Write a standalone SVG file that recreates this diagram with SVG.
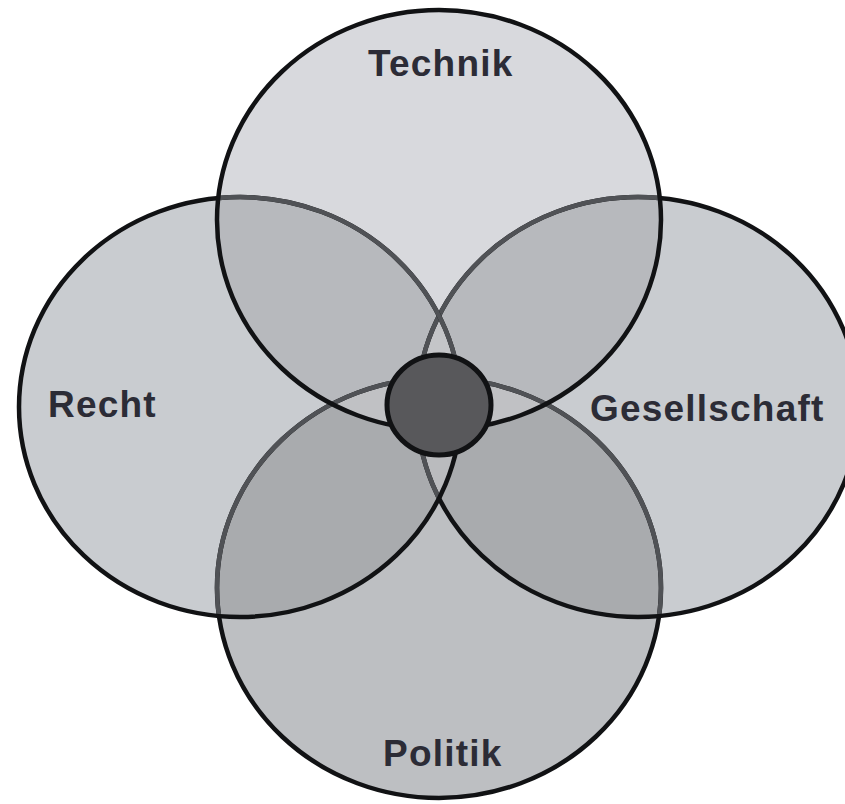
<svg xmlns="http://www.w3.org/2000/svg" width="845" height="804" viewBox="0 0 845 804">
  <defs>
    <style>
      .edge { fill: none; stroke: #111214; stroke-width: 4.5; }
      .edge-under { fill: none; stroke: #505256; stroke-width: 4.5; }
      .label { font-family: "Liberation Sans", Arial, sans-serif; font-weight: bold; font-size: 37px; fill: #2c2c36; letter-spacing: 1.2px; }
    </style>
    <!-- the four domains share one size; only their centres differ -->
    <ellipse id="shapeT" cx="439" cy="220" rx="222" ry="210"/>
    <ellipse id="shapeR" cx="240" cy="407" rx="221" ry="210"/>
    <ellipse id="shapeG" cx="638" cy="407" rx="221" ry="210"/>
    <ellipse id="shapeP" cx="439" cy="588" rx="222" ry="210"/>
    <clipPath id="clipT"><use href="#shapeT"/></clipPath>
    <clipPath id="clipR"><use href="#shapeR"/></clipPath>
    <clipPath id="clipG"><use href="#shapeG"/></clipPath>
    <clipPath id="clipP"><use href="#shapeP"/></clipPath>
    <clipPath id="clipRT"><use href="#shapeR"/><use href="#shapeT"/></clipPath>
    <clipPath id="clipGRT"><use href="#shapeG"/><use href="#shapeR"/><use href="#shapeT"/></clipPath>
  </defs>

  <rect width="845" height="804" fill="#ffffff"/>

  <!-- area fills: single domains -->
  <g id="fills">
    <use href="#shapeP" fill="#bdbfc2"/>
    <use href="#shapeG" fill="#c9ccd0"/>
    <use href="#shapeR" fill="#c9ccd0"/>
    <use href="#shapeT" fill="#d8d9dd"/>
    <!-- pairwise overlaps -->
    <g clip-path="url(#clipR)"><use href="#shapeP" fill="#a9abae"/></g>
    <g clip-path="url(#clipG)"><use href="#shapeP" fill="#a9abae"/></g>
    <g clip-path="url(#clipT)"><use href="#shapeR" fill="#b7b9bd"/></g>
    <g clip-path="url(#clipT)"><use href="#shapeG" fill="#b7b9bd"/></g>
    <!-- triple overlaps around the core -->
    <g clip-path="url(#clipR)"><g clip-path="url(#clipG)"><use href="#shapeP" fill="#babbbe"/></g></g>
    <g clip-path="url(#clipT)"><g clip-path="url(#clipP)"><use href="#shapeR" fill="#c0c1c4"/></g></g>
    <g clip-path="url(#clipT)"><g clip-path="url(#clipP)"><use href="#shapeG" fill="#c0c1c4"/></g></g>
    <g clip-path="url(#clipT)"><g clip-path="url(#clipR)"><use href="#shapeG" fill="#c4c5c8"/></g></g>
  </g>

  <!-- Politik -->
  <g id="politik">
    <use href="#shapeP" class="edge"/>
    <g clip-path="url(#clipGRT)"><use href="#shapeP" class="edge-under"/></g>
    <text class="label" x="383" y="766">Politik</text>
  </g>

  <!-- Gesellschaft -->
  <g id="gesellschaft">
    <use href="#shapeG" class="edge"/>
    <g clip-path="url(#clipRT)"><use href="#shapeG" class="edge-under"/></g>
    <text class="label" x="590" y="421">Gesellschaft</text>
  </g>

  <!-- Recht -->
  <g id="recht">
    <use href="#shapeR" class="edge"/>
    <g clip-path="url(#clipT)"><use href="#shapeR" class="edge-under"/></g>
    <text class="label" x="48" y="417">Recht</text>
  </g>

  <!-- Technik -->
  <g id="technik">
    <use href="#shapeT" class="edge"/>
    <text class="label" x="368" y="76">Technik</text>
  </g>

  <!-- shared core -->
  <g id="kern">
    <ellipse cx="439" cy="405" rx="52" ry="50" fill="#58585b" stroke="#111214" stroke-width="5"/>
  </g>
</svg>
